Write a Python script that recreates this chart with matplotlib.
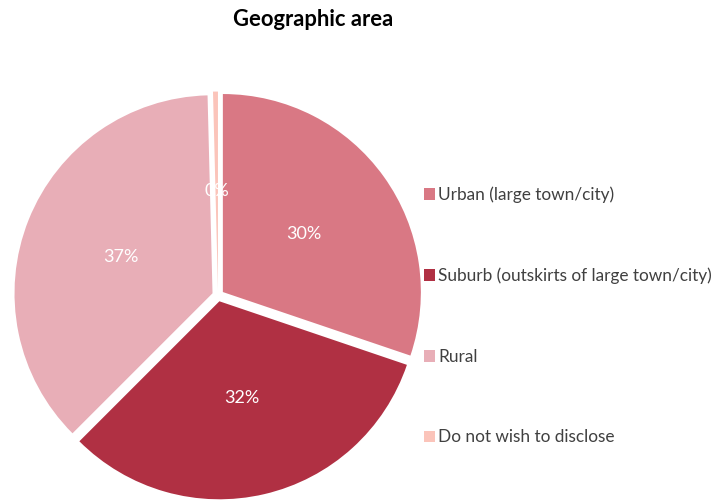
import matplotlib
matplotlib.use("Agg")
import matplotlib.pyplot as plt

labels = ["Urban (large town/city)", "Suburb (outskirts of large town/city)",
          "Rural", "Do not wish to disclose"]
shares = [30.2, 32.3, 37.1, 0.4]
colors = ["#D97884", "#B03043", "#E8AEB7", "#FBC4BA"]

plt.rcParams["font.family"] = ["Lato", "DejaVu Sans"]

fig = plt.figure(figsize=(7.13, 5), dpi=100)
ax = fig.add_axes([0.0003, -0.0266, 0.611, 0.8712])

wedges, texts, autotexts = ax.pie(
    shares,
    colors=colors,
    startangle=90,
    counterclock=False,
    explode=[0.03] * len(shares),
    autopct="%1.0f%%",
    pctdistance=0.5,
    textprops={"color": "white", "fontsize": 13},
)
ax.set_xlim(-1.1, 1.1)
ax.set_ylim(-1.1, 1.1)
ax.set_aspect("equal")
ax.axis("off")

fig.text(0.439, 0.962, "Geographic area", ha="center", va="center",
         fontsize=15.8, fontweight="bold", color="black")

fig.legend(wedges, labels, loc="center left", bbox_to_anchor=(0.594, 0.368),
           frameon=False, fontsize=12.4, labelspacing=3.75,
           handlelength=0.65, handleheight=0.65, handletextpad=0.2,
           borderpad=0, borderaxespad=0, labelcolor="#404040")

fig.savefig("out.png", dpi=100)
